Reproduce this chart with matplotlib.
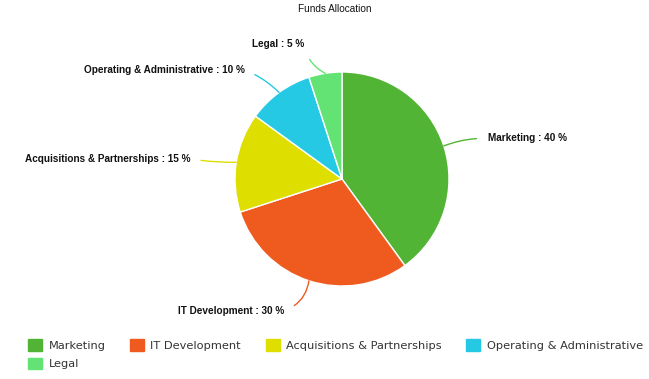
import numpy as np
import matplotlib.pyplot as plt
from matplotlib.patches import Patch

categories = ["Marketing", "IT Development", "Acquisitions & Partnerships",
              "Operating & Administrative", "Legal"]
shares = [40, 30, 15, 10, 5]
colors = ["#52b434", "#ef5a1f", "#dedf00", "#26c9e4", "#63e374"]

# label text anchors (data units, pie radius = 1) and alignment
label_pos = [(1.36, 0.38), (-0.54, -1.23), (-1.42, 0.19), (-0.91, 1.02), (-0.355, 1.26)]
label_ha = ["left", "right", "right", "right", "right"]
label_rad = [0.1, 0.3, 0.05, -0.1, 0.25]

fig = plt.figure(figsize=(6.49, 3.79), dpi=100)
W, H = 649, 379
cx, cy, r = 342, 179, 107
ax = fig.add_axes([(cx - r) / W, 1 - (cy + r) / H, 2 * r / W, 2 * r / H])

wedges, _ = ax.pie(shares, colors=colors, startangle=90, counterclock=False,
                   wedgeprops=dict(edgecolor="white", linewidth=1), radius=1)
ax.set_xlim(-1, 1)
ax.set_ylim(-1, 1)
ax.set_aspect("equal")
ax.axis("off")

for w, cat, val, col, pos, ha, rad in zip(wedges, categories, shares, colors,
                                          label_pos, label_ha, label_rad):
    ang = np.deg2rad((w.theta1 + w.theta2) / 2)
    xy = (np.cos(ang), np.sin(ang))
    ax.annotate(f"{cat} : {val} %", xy=xy, xytext=pos, ha=ha, va="center",
                fontsize=7.2, fontweight="bold", family="Liberation Sans",
                color="#111111", annotation_clip=False,
                arrowprops=dict(arrowstyle="-", color=col, lw=1,
                                relpos=(0 if ha == "left" else 1, 0.5),
                                shrinkA=6, shrinkB=0,
                                connectionstyle=f"arc3,rad={rad}"))

fig.text(335 / W, 1 - 9 / H, "Funds Allocation", ha="center", va="center",
         fontsize=7.2, family="Liberation Sans", color="#111111")

# legend fills column by column, so reorder to read row by row
order = [0, 4, 1, 2, 3]
handles = [Patch(facecolor=colors[i], edgecolor=colors[i]) for i in order]
labels = [categories[i] for i in order]
fig.legend(handles, labels, loc="upper left", bbox_to_anchor=(28 / W, 1 - 339 / H),
           ncol=4, frameon=False, fontsize=8.2, handlelength=1.25, handleheight=1.2,
           handletextpad=0.55, columnspacing=2.15, labelspacing=0.6,
           borderaxespad=0, borderpad=0, labelcolor="#333333")

fig.savefig("out.png", dpi=100)
